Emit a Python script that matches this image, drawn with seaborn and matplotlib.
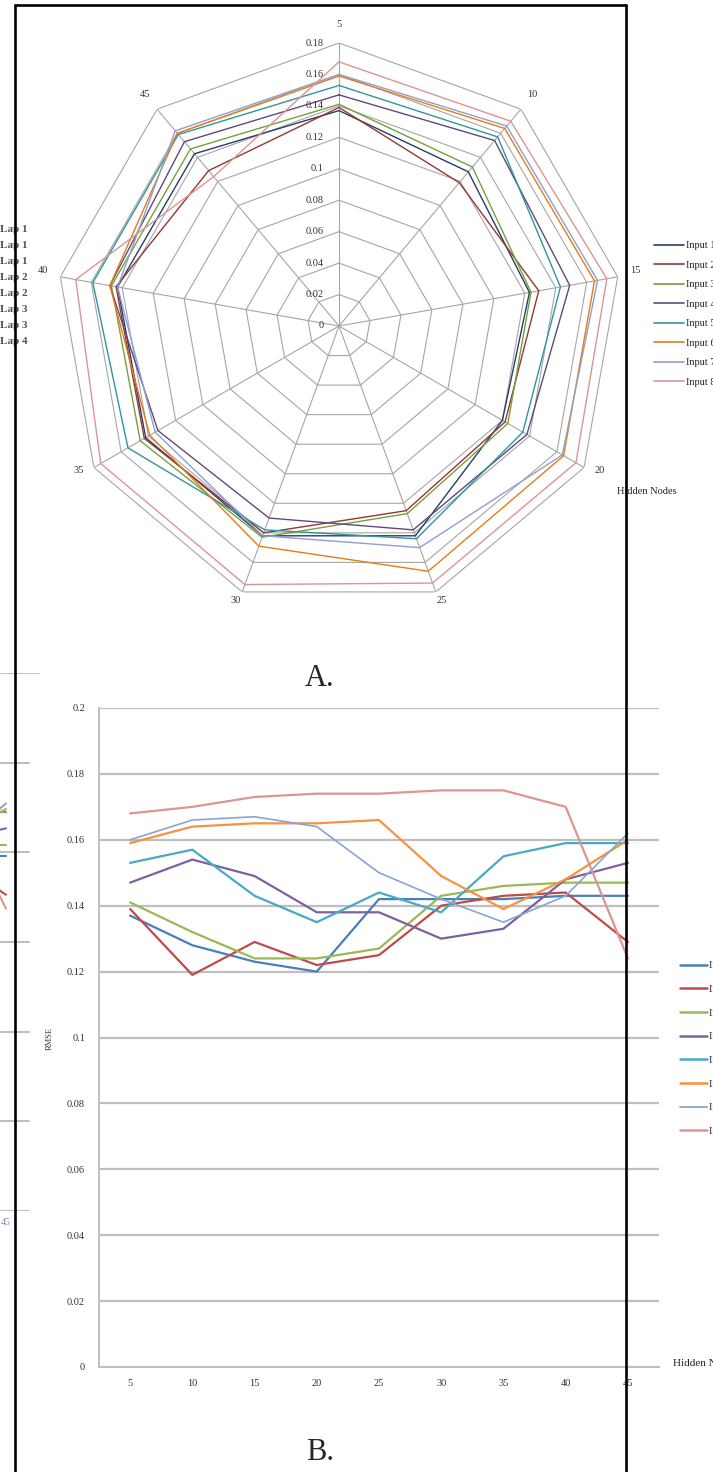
import numpy as np
import pandas as pd
import seaborn as sns
import matplotlib.pyplot as plt
from matplotlib.lines import Line2D

# data (RMSE per number of hidden nodes)
hidden_nodes = [5, 10, 15, 20, 25, 30, 35, 40, 45]
series_names = ['Input 1', 'Input 2', 'Input 3', 'Input 4',
                'Input 5', 'Input 6', 'Input 7', 'Input 8']
rmse_1 = [0.137, 0.128, 0.123, 0.120, 0.142, 0.142, 0.142, 0.143, 0.143]
rmse_2 = [0.139, 0.119, 0.129, 0.122, 0.125, 0.140, 0.143, 0.144, 0.129]
rmse_3 = [0.141, 0.132, 0.124, 0.124, 0.127, 0.143, 0.146, 0.147, 0.147]
rmse_4 = [0.147, 0.154, 0.149, 0.138, 0.138, 0.130, 0.133, 0.148, 0.153]
rmse_5 = [0.153, 0.157, 0.143, 0.135, 0.144, 0.138, 0.155, 0.159, 0.159]
rmse_6 = [0.159, 0.164, 0.165, 0.165, 0.166, 0.149, 0.139, 0.148, 0.160]
rmse_7 = [0.160, 0.166, 0.167, 0.164, 0.150, 0.142, 0.135, 0.143, 0.162]
rmse_8 = [0.168, 0.170, 0.173, 0.174, 0.174, 0.175, 0.175, 0.170, 0.124]
all_rmse = [rmse_1, rmse_2, rmse_3, rmse_4, rmse_5, rmse_6, rmse_7, rmse_8]

radar_ticks = [0, 0.02, 0.04, 0.06, 0.08, 0.1, 0.12, 0.14, 0.16, 0.18]
line_ticks = [0, 0.02, 0.04, 0.06, 0.08, 0.1, 0.12, 0.14, 0.16, 0.18, 0.2]
lap_labels = ['Lap 1', 'Lap 1', 'Lap 1', 'Lap 2', 'Lap 2', 'Lap 3', 'Lap 3', 'Lap 4']

radar_colors = ['#243F66', '#953735', '#77A03C', '#604A7B',
                '#31959C', '#E47C1A', '#8F9FD1', '#D99694']
line_colors = ['#4A7EBB', '#BE4B48', '#98B954', '#7D60A0',
               '#46AAC5', '#F69240', '#86A5D6', '#DA9695']

rows = []
for name, vals in zip(series_names, all_rmse):
    for h, v in zip(hidden_nodes, vals):
        rows.append({'series': name, 'hidden': str(h), 'rmse': v})
df = pd.DataFrame(rows)

# radar table: angle per spoke, closed back to the first spoke
n = len(hidden_nodes)
theta = np.linspace(0, 2 * np.pi, n + 1)
radar_rows = []
for name, vals in zip(series_names, all_rmse):
    for t, v in zip(theta, vals + vals[:1]):
        radar_rows.append({'series': name, 'theta': t, 'rmse': v})
radar_df = pd.DataFrame(radar_rows)

sns.set_style('white')
plt.rcParams['font.family'] = ['Liberation Serif', 'DejaVu Serif']

W, H = 713, 1472
fig = plt.figure(figsize=(W / 100, H / 100), dpi=100)


def px(x0, y0, x1, y1):
    return [x0 / W, 1 - y1 / H, (x1 - x0) / W, (y1 - y0) / H]


grid_gray = '#A6A6A6'

# ---- A. radar chart
pax = fig.add_axes(px(56, 43, 622, 609), projection='polar')
pax.set_facecolor('none')
pax.set_theta_zero_location('N')
pax.set_theta_direction(-1)
pax.grid(False)
pax.spines['polar'].set_visible(False)
for r in radar_ticks[1:]:
    pax.plot(theta, [r] * len(theta), color=grid_gray, lw=0.8, zorder=0)
pax.vlines(theta[:-1], 0, radar_ticks[-1], color=grid_gray, lw=0.8, zorder=0)
sns.lineplot(data=radar_df, x='theta', y='rmse', hue='series', palette=radar_colors,
             sort=False, estimator=None, linewidth=1.0, ax=pax)
pax.set_ylim(0, 0.18)
pax.set_yticks(radar_ticks)
pax.set_yticklabels([])
pax.set_xticks(theta[:-1])
pax.set_xticklabels([])
pax.set_xlabel('')
pax.set_ylabel('')
# spoke labels just outside the outer ring
for t, h in zip(theta[:-1], hidden_nodes):
    pax.annotate(str(h), xy=(t, radar_ticks[-1]),
                 xytext=(13 * np.sin(t), 10 * np.cos(t) + 3), textcoords='offset points',
                 ha='center', va='center', fontsize=7.5, color='#333333')
for r in radar_ticks:
    pax.annotate(f'{r:g}', xy=(0, r), xytext=(-11, 0), textcoords='offset points',
                 ha='right', va='center', fontsize=7.5, color='#333333')
leg = pax.get_legend()
handles, labels = leg.legend_handles, [t.get_text() for t in leg.get_texts()]
leg.remove()
for hnd in handles:
    hnd.set_linewidth(1.2)
fig.legend(handles, labels, loc='upper left', bbox_to_anchor=(654 / W, 1 - 241 / H),
           frameon=False, fontsize=7.5, handlelength=2.9, handletextpad=0.2,
           labelspacing=0.98, borderpad=0, borderaxespad=0)
fig.text(617 / W, 1 - 492 / H, 'Hidden Nodes', fontsize=7.5, va='center', color='#222222')

# cut-off legend of a neighbouring chart on the far left
for i, lab in enumerate(lap_labels):
    fig.text(0, 1 - (230 + 16 * i) / H, lab, fontsize=8, va='center', ha='left',
             color='#505050', weight='bold')

fig.text(320 / W, 1 - 678 / H, 'A.', fontsize=22, ha='center', va='center')

# ---- cut-off strip of a neighbouring line chart on the far left
sax = fig.add_axes(px(-300, 673, 40, 1211))
sax.set_facecolor('none')
sns.lineplot(data=df, x='hidden', y='rmse', hue='series', palette=line_colors,
             linewidth=1.5, sort=False, legend=False, ax=sax)
sax.set_xlim(3.06, 8.55)
sax.set_ylim(0.0146, 0.2092)
strip_grid = np.linspace(0.0146, 0.2092, 7)
for k, g in enumerate(strip_grid):
    sax.axhline(g, xmax=1 if k == len(strip_grid) - 1 else 0.968,
                color='#BFBFBF', lw=1.5, zorder=0)
sax.set_yticks([])
sax.tick_params(axis='x', length=0, labelsize=7, labelcolor='#8090A8', pad=5)
sax.set_xlabel('')
sax.set_ylabel('')
sns.despine(ax=sax, left=True, bottom=True)

# ---- B. line chart
bax = fig.add_axes(px(99, 708, 659, 1367))
bax.set_facecolor('none')
sns.lineplot(data=df, x='hidden', y='rmse', hue='series', palette=line_colors,
             linewidth=1.6, sort=False, ax=bax)
bax.get_lines()[6].set_linewidth(1.2)
bax.set_xlim(-0.5, 8.5)
bax.set_ylim(0, 0.2)
bax.set_yticks(line_ticks)
bax.set_yticklabels([f'{t:g}' for t in line_ticks])
bax.yaxis.grid(True, color='#BFBFBF', lw=1.6)
bax.set_axisbelow(True)
sns.despine(ax=bax)
for s in ['left', 'bottom']:
    bax.spines[s].set_color('#BFBFBF')
    bax.spines[s].set_linewidth(1.4)
bax.tick_params(length=0, labelsize=7.5, labelcolor='#333333')
bax.tick_params(axis='y', pad=10)
bax.tick_params(axis='x', pad=9)
bax.set_xlabel('')
bax.set_ylabel('')
leg = bax.get_legend()
handles, labels = leg.legend_handles, [t.get_text() for t in leg.get_texts()]
leg.remove()
for hnd in handles:
    hnd.set_linewidth(1.8)
handles[6].set_linewidth(1.3)
fig.legend(handles, labels, loc='upper left', bbox_to_anchor=(680 / W, 1 - 961 / H),
           frameon=False, fontsize=7.5, handlelength=2.6, handletextpad=0.2,
           labelspacing=1.38, borderpad=0, borderaxespad=0)
fig.text(50 / W, 1 - 1038 / H, 'RMSE', fontsize=6, rotation=90, ha='center', va='center',
         color='#333333')
fig.text(673 / W, 1 - 1364 / H, 'Hidden Nodes', fontsize=8, va='center', color='#222222')
fig.text(320 / W, 1 - 1453 / H, 'B.', fontsize=22, ha='center', va='center')

# black frame around the panel
for xs, ys in [([15, 15], [5, H + 5]), ([15, 626], [5, 5]), ([626, 626], [5, H + 5])]:
    fig.add_artist(Line2D([x / W for x in xs], [1 - y / H for y in ys],
                          transform=fig.transFigure, color='black', lw=1.9, zorder=20))

fig.savefig('out.png', dpi=100)
